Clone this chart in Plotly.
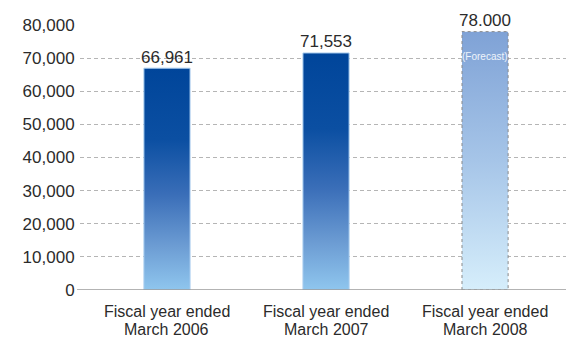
import plotly.graph_objects as go

cat_line1 = ["Fiscal year ended", "Fiscal year ended", "Fiscal year ended"]
cat_line2 = ["March 2006", "March 2007", "March 2008"]
values = [66961, 71553, 78000]
value_labels = ["66,961", "71,553", "78.000"]
is_forecast = [False, False, True]
y_ticks = [0, 10000, 20000, 30000, 40000, 50000, 60000, 70000, 80000]
y_tick_labels = ["0", "10,000", "20,000", "30,000", "40,000", "50,000", "60,000", "70,000", "80,000"]

FONT = "Liberation Sans, Arial, sans-serif"
TXT = "#2b2b2b"
BAR_W = 0.29
actual_scale = [[0.0, "#8fc6ee"], [0.2, "#6c9cd3"], [0.43, "#3a6eb8"], [0.68, "#0b4fa2"], [1.0, "#00459a"]]
forecast_scale = [[0.0, "#d6eefb"], [0.5, "#a6c5e8"], [1.0, "#7fa2d6"]]

fig = go.Figure()
for i, (v, fc) in enumerate(zip(values, is_forecast)):
    xs = [i - BAR_W / 2, i + BAR_W / 2, i + BAR_W / 2, i - BAR_W / 2, i - BAR_W / 2]
    ys = [0, 0, v, v, 0]
    fig.add_trace(go.Scatter(
        x=xs, y=ys, mode="lines", fill="toself",
        fillgradient=dict(type="vertical", colorscale=forecast_scale if fc else actual_scale),
        line=dict(color="#8a8a8a", width=1, dash="dot") if fc else dict(color="#a9cdef", width=1),
        hoverinfo="skip", showlegend=False,
    ))

for i, (v, lab, fc) in enumerate(zip(values, value_labels, is_forecast)):
    fig.add_annotation(x=i, y=v, yref="y", text=lab, showarrow=False, yanchor="middle", yshift=11,
                       font=dict(family=FONT, size=17, color=TXT))
    if fc:
        fig.add_annotation(x=i, y=v, yref="y", text="(Forecast)", showarrow=False, yanchor="middle",
                           yshift=-25, font=dict(family=FONT, size=10, color="#eef4fb"))

for i, (l1, l2) in enumerate(zip(cat_line1, cat_line2)):
    fig.add_annotation(x=i, xref="x", y=0, yref="paper", text=l1, showarrow=False, yanchor="middle",
                       yshift=-21, font=dict(family=FONT, size=16, color=TXT))
    fig.add_annotation(x=i, xref="x", y=0, yref="paper", text=l2, showarrow=False, yanchor="middle",
                       yshift=-39, font=dict(family=FONT, size=16, color=TXT))

fig.update_layout(
    width=566, height=338, margin=dict(l=80, r=0, t=25, b=48),
    plot_bgcolor="white", paper_bgcolor="white",
    xaxis=dict(range=[-0.547, 2.509], showticklabels=False,
               showgrid=False, zeroline=False, showline=False, ticks=""),
    yaxis=dict(range=[0, 80000], tickvals=y_ticks, ticktext=y_tick_labels,
               showgrid=True, gridcolor="#b5b5b5", gridwidth=1, griddash="4px,3px",
               zeroline=False, showline=False, ticks="outside", ticklen=1, tickcolor="rgba(0,0,0,0)",
               tickfont=dict(family=FONT, size=17, color=TXT)),
    shapes=[dict(type="line", xref="paper", yref="y", x0=-0.006, x1=1, y0=0, y1=0,
                 line=dict(color="#9a9a9a", width=1.5), layer="above")],
)

fig.write_html("out.html")
